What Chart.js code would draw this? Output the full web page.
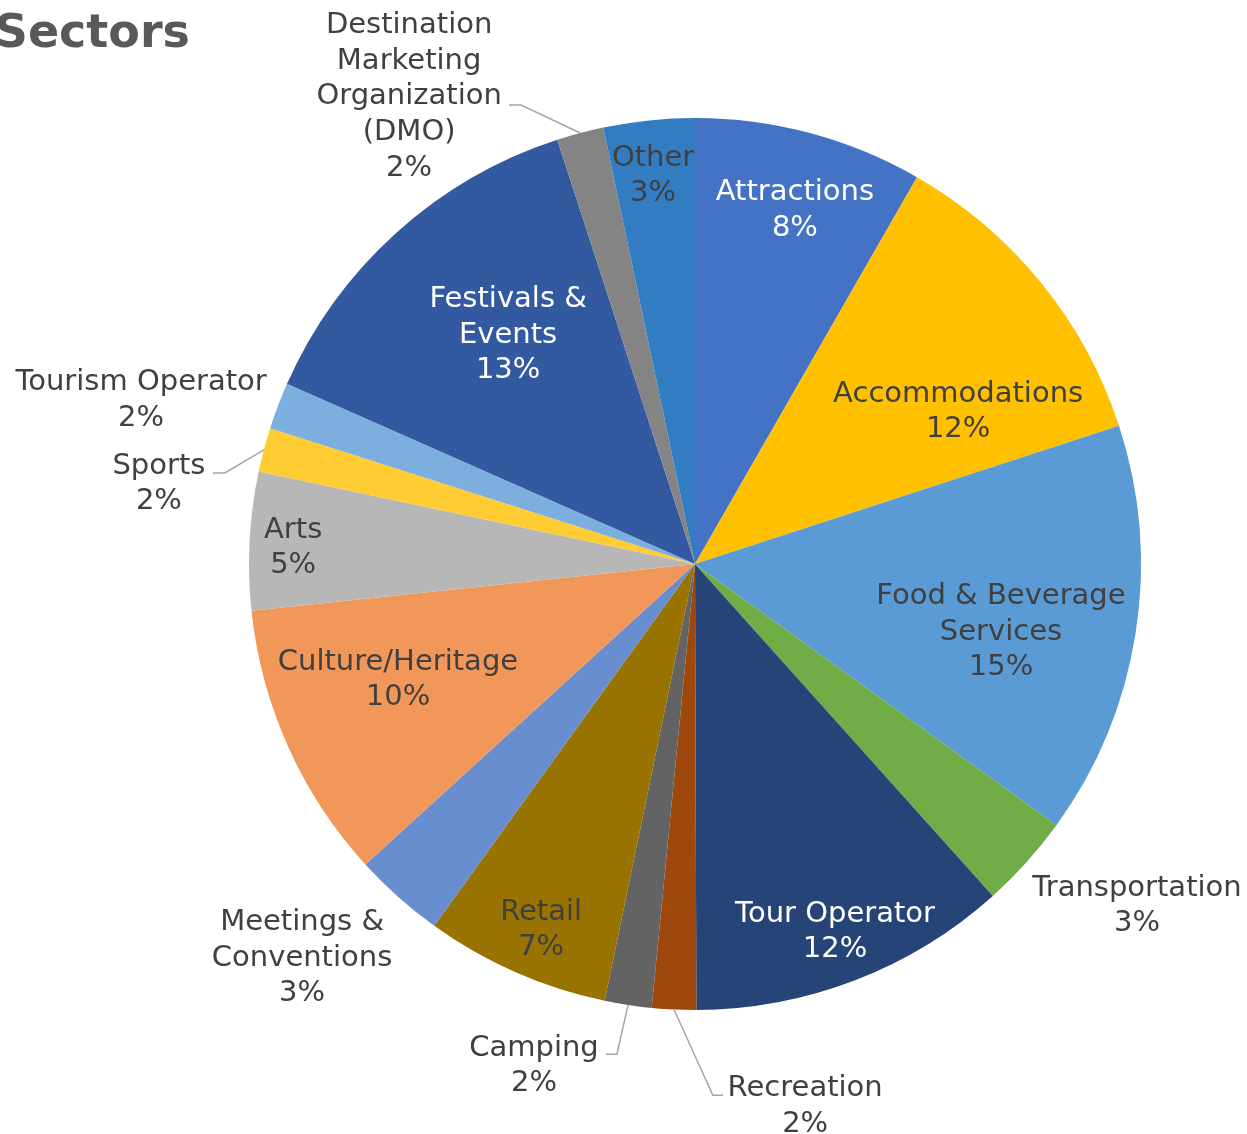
<!DOCTYPE html>
<html>
<head>
<meta charset="utf-8">
<script src="https://cdn.jsdelivr.net/npm/chart.js@4.4.1/dist/chart.umd.min.js"></script>
<style>
html,body{margin:0;padding:0;background:#fff;}
#wrap{width:1247px;height:1134px;position:relative;}
</style>
</head>
<body>
<div id="wrap"><canvas id="c" width="1247" height="1134"></canvas></div>
<script>
// ---- data ----
const title = "Sectors";
const categories = ["Attractions","Accommodations","Food & Beverage Services","Transportation","Tour Operator","Recreation","Camping","Retail","Meetings & Conventions","Culture/Heritage","Arts","Sports","Tourism Operator","Festivals & Events","Destination Marketing Organization (DMO)","Other"];
const shares = [8.3, 11.7, 15.0, 3.4, 11.6, 1.6, 1.7, 6.7, 3.3, 10.1, 5.0, 1.6, 1.7, 13.4, 1.7, 3.3];

// ---- styling / layout ----
const colors = ["#4472C4","#FFC000","#5B9BD5","#70AD47","#264478","#9E480E","#636363","#997300","#698ED0","#F1975A","#B7B7B7","#FFCD33","#7CAFDD","#335AA1","#848484","#327DC2"];
const labelLines = [["Attractions"],["Accommodations"],["Food & Beverage","Services"],["Transportation"],["Tour Operator"],["Recreation"],["Camping"],["Retail"],["Meetings &","Conventions"],["Culture/Heritage"],["Arts"],["Sports"],["Tourism Operator"],["Festivals &","Events"],["Destination","Marketing","Organization","(DMO)"],["Other"]];
const labelColor = ["#fff","#404040","#404040","#404040","#fff","#404040","#404040","#404040","#404040","#404040","#404040","#404040","#404040","#fff","#404040","#404040"];
// label block centre relative to pie centre, in radius units
const labelPos = [[0.224,-0.800],[0.590,-0.348],[0.686,0.146],[0.991,0.760],[0.314,0.818],[0.247,1.209],[-0.361,1.119],[-0.345,0.814],[-0.881,0.877],[-0.666,0.253],[-0.901,-0.043],[-1.202,-0.186],[-1.242,-0.374],[-0.419,-0.520],[-0.641,-1.054],[-0.094,-0.877]];
// leader lines: [elbowX, elbowY, endX] in radius units (null = none)
const leaders = [null,null,null,null,null,[0.040,1.191,0.063],[-0.175,1.099,-0.200],null,null,null,null,[-1.054,-0.204,-1.081],null,null,[-0.390,-1.029,-0.417],null];

const FONT = '29px "DejaVu Sans", Verdana, sans-serif';
const LINE_H = 35.6;

const labelPlugin = {
  id: 'pieLabels',
  afterDraw(chart) {
    const ctx = chart.ctx;
    const meta = chart.getDatasetMeta(0);
    const total = shares.reduce((a,b)=>a+b,0);
    ctx.save();
    // leader lines
    ctx.strokeStyle = "#A6A6A6";
    ctx.lineWidth = 1.5;
    meta.data.forEach((arc, i) => {
      const L = leaders[i];
      if (!L) return;
      const p = arc.getProps(['x','y','startAngle','endAngle','outerRadius'], true);
      const mid = (p.startAngle + p.endAngle)/2;
      const r = p.outerRadius;
      ctx.beginPath();
      ctx.moveTo(p.x + r*Math.cos(mid), p.y + r*Math.sin(mid));
      ctx.lineTo(p.x + L[0]*r, p.y + L[1]*r);
      ctx.lineTo(p.x + L[2]*r, p.y + L[1]*r);
      ctx.stroke();
    });
    // labels
    ctx.font = FONT;
    ctx.textAlign = 'center';
    ctx.textBaseline = 'middle';
    meta.data.forEach((arc, i) => {
      const p = arc.getProps(['x','y','outerRadius'], true);
      const r = p.outerRadius;
      const cx = p.x + labelPos[i][0]*r;
      const cy = p.y + labelPos[i][1]*r;
      const lines = labelLines[i].concat([Math.round(shares[i]/total*100) + "%"]);
      const y0 = cy - (lines.length-1)*LINE_H/2;
      ctx.fillStyle = labelColor[i];
      lines.forEach((t, k) => ctx.fillText(t, cx, y0 + k*LINE_H + 3));
    });
    // title
    ctx.font = 'bold 46px "DejaVu Sans", Verdana, sans-serif';
    ctx.fillStyle = "#595959";
    ctx.textAlign = 'right';
    ctx.textBaseline = 'alphabetic';
    ctx.fillText(title, 190, 47);
    ctx.restore();
  }
};

new Chart(document.getElementById('c'), {
  type: 'pie',
  data: {
    labels: categories,
    datasets: [{ data: shares, backgroundColor: colors, borderWidth: 0 }]
  },
  options: {
    responsive: false,
    animation: false,
    layout: { padding: { left: 249, right: 106, top: 118, bottom: 124 } },
    plugins: { legend: { display: false }, tooltip: { enabled: false } }
  },
  plugins: [labelPlugin]
});
</script>
</body>
</html>
